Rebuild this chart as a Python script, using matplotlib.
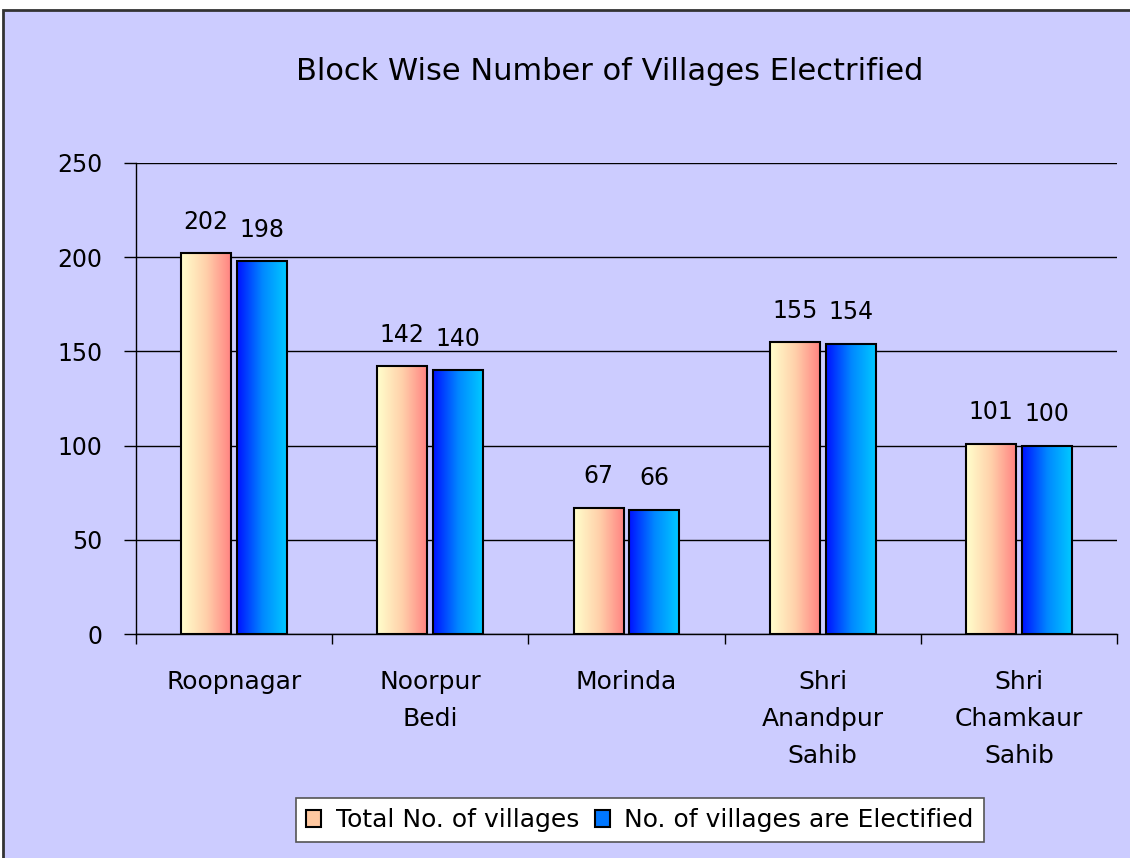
import matplotlib
matplotlib.use("Agg")
import matplotlib.pyplot as plt
import numpy as np
from matplotlib.patches import Rectangle, Patch
from matplotlib.colors import LinearSegmentedColormap

blocks = ["Roopnagar", "Noorpur\nBedi", "Morinda", "Shri\nAnandpur\nSahib", "Shri\nChamkaur\nSahib"]
total_villages = [202, 142, 67, 155, 101]
electrified = [198, 140, 66, 154, 100]
series_names = ["Total No. of villages", "No. of villages are Electified"]
title = "Block Wise Number of Villages Electrified"
yticks = [0, 50, 100, 150, 200, 250]

BG = "#CCCCFF"
cmap1 = LinearSegmentedColormap.from_list("c1", ["#FFFFCC", "#FFD0AA", "#FF8080"])
cmap2 = LinearSegmentedColormap.from_list("c2", ["#0011FF", "#0088FF", "#00CCFF"])

plt.rcParams['font.family'] = ['DejaVu Sans']
fig = plt.figure(figsize=(11.3, 8.58), dpi=100, facecolor="white")
W, H = 1130, 858
bgrect = Rectangle((3 / W, -0.01), 1.02, 1 - 10 / H + 0.01, transform=fig.transFigure,
                   facecolor=BG, edgecolor="#333333", linewidth=2, zorder=-10)
fig.patches.append(bgrect)

ax = fig.add_axes([136 / W, 1 - 634 / H, (1117 - 136) / W, (634 - 163) / H])
ax.set_facecolor(BG)
ax.patch.set_alpha(0)

x = np.arange(len(blocks))
bw = 0.255
gap = 0.015
bars1 = ax.bar(x - bw / 2 - gap, total_villages, bw, facecolor="none", edgecolor="black", linewidth=1.5, zorder=3)
bars2 = ax.bar(x + bw / 2 + gap, electrified, bw, facecolor="none", edgecolor="black", linewidth=1.5, zorder=3)

grad = np.linspace(0, 1, 256).reshape(1, -1)
for bars, cm in ((bars1, cmap1), (bars2, cmap2)):
    for b in bars:
        x0, y0 = b.get_x(), b.get_y()
        w, h = b.get_width(), b.get_height()
        im = ax.imshow(grad, cmap=cm, extent=(x0, x0 + w, y0, y0 + h), aspect="auto", zorder=2,
                       interpolation="bilinear")
        im.set_clip_path(b)
        ax.annotate(str(int(h)), (x0 + w / 2, y0 + h), xytext=(0, 14), textcoords="offset points",
                    ha="center", va="bottom", fontsize=17, color="black")

ax.set_xlim(-0.5, len(blocks) - 0.5)
ax.set_ylim(0, 250)
ax.set_yticks(yticks)
ax.set_yticklabels([str(v) for v in yticks], fontsize=17)
ax.yaxis.grid(True, color="black", linewidth=1)
ax.set_axisbelow(True)
ax.tick_params(axis="y", length=9, width=1, pad=15, direction="out")
ax.set_xticks(x)
ax.set_xticklabels(blocks, fontsize=18, linespacing=1.68, va="top")
ax.tick_params(axis="x", which="major", length=0, pad=26)
ax.set_xticks(np.arange(-0.5, len(blocks), 1), minor=True)
ax.tick_params(axis="x", which="minor", length=7, width=1, direction="out")
for s in ("top", "right"):
    ax.spines[s].set_visible(False)
ax.spines["left"].set_linewidth(1)
ax.spines["bottom"].set_linewidth(1)

fig.text(610 / W, 1 - 72 / H, title, ha="center", va="center", fontsize=22)

h1 = Patch(facecolor="#FFC8A0", edgecolor="black", linewidth=1.5)
h2 = Patch(facecolor="#0077FF", edgecolor="black", linewidth=1.5)
leg = fig.legend([h1, h2], series_names, loc="center", bbox_to_anchor=(640 / W, 1 - 820 / H), ncol=2,
                 fontsize=18, frameon=True, fancybox=False, edgecolor="#555555", facecolor="white",
                 framealpha=1, handlelength=0.6, handleheight=0.7, handletextpad=0.6, columnspacing=0.6,
                 borderpad=0.4, borderaxespad=0)
leg.get_frame().set_linewidth(1.2)

fig.savefig("out.png", dpi=100, facecolor="white")
